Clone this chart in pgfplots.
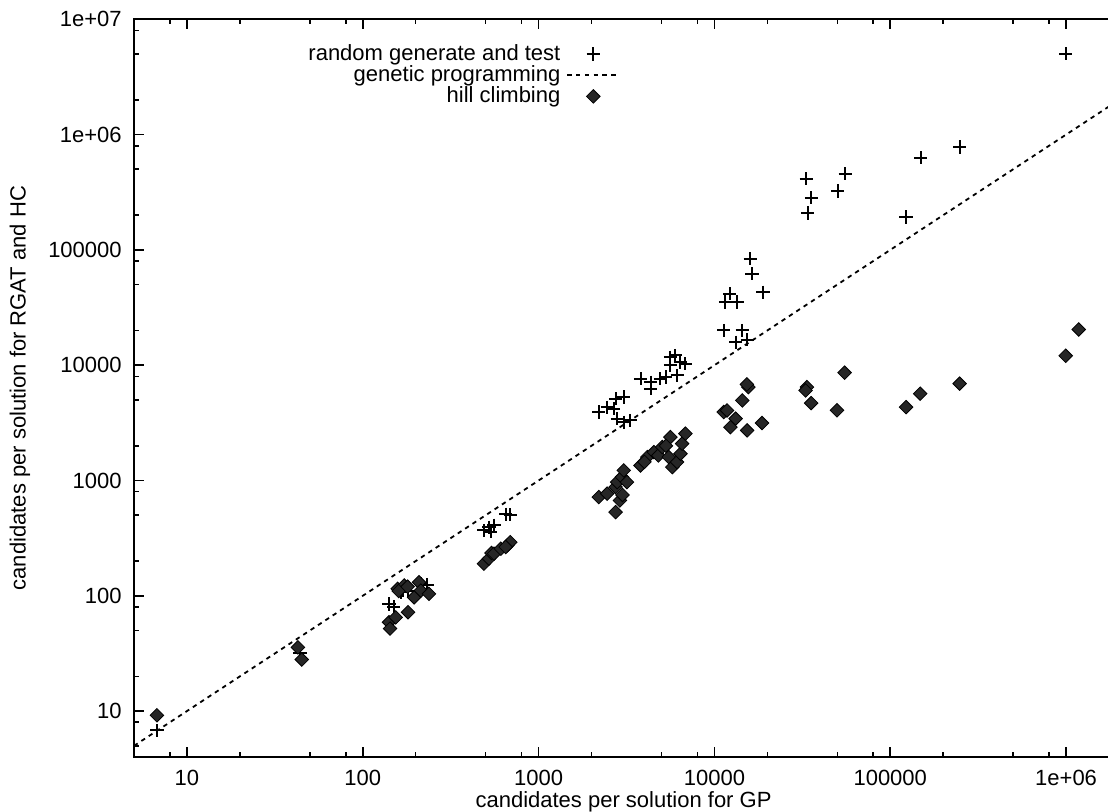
\documentclass[border=0pt]{standalone}
\usepackage{fontspec}
\setmainfont{Liberation Sans}
\usepackage{pgfplots}
\pgfplotsset{compat=1.18}

\begin{document}
\fontsize{11}{13}\selectfont
\begin{tikzpicture}
\begin{loglogaxis}[
  scale only axis, width=492.5pt, height=368.85pt,
  xmin=5, xmax=2e6, ymin=4, ymax=1e7,
  xtick={10,100,1000,10000,100000,1000000},
  xticklabels={10,100,1000,10000,100000,1e+06},
  ytick={10,100,1000,10000,100000,1000000,10000000},
  yticklabels={10,100,1000,10000,100000,1e+06,1e+07},
  minor xtick={8,20,50,80,200,500,800,2000,5000,8000,20000,50000,80000,200000,500000,800000},
  minor ytick={5,8,20,50,80,200,500,800,2000,5000,8000,20000,50000,80000,200000,500000,800000,2000000,5000000,8000000},
  major tick length=5pt, minor tick length=2.5pt,
  every tick/.style={black, line width=0.8pt},
  axis line style={line width=1.2pt},
  tick label style={font=\fontsize{11}{13}\selectfont},
  xticklabel style={yshift=-2.6pt},
  yticklabel style={xshift=-2.3pt},
  xlabel={candidates per solution for GP},
  ylabel={candidates per solution for RGAT and HC},
  label style={font=\fontsize{11}{13}\selectfont},
  xlabel style={at={([yshift=-22.5pt]axis description cs:0.497,0)}, anchor=center},
  ylabel style={at={([xshift=-57pt]axis description cs:0,0.5)}, anchor=center},
  legend plot pos=right,
  legend cell align=right,
  legend image code/.code={\draw[mark repeat=2,mark phase=2,#1] plot coordinates {(0pt,0pt) (13pt,0pt) (26pt,0pt)};},
  legend style={draw=none, fill=none, at={(rel axis cs:0.494,0.968)}, anchor=north east,
    inner sep=0pt, row sep=0pt, nodes={inner ysep=0.5pt, inner xsep=3pt}, font=\fontsize{11}{13}\selectfont},
]
% random generate and test
\addplot[only marks, mark=+, mark size=3.3pt, mark options={line width=1pt, black}] coordinates {
(6.75,6.8) (44,31.6)
(141,85) (150,80) (164,108) (170,112) (180,110) (214,127) (233,125)
(489,369) (522,394) (535,360) (558,410) (650,510) (690,505)
(2200,3920) (2455,4330) (2680,4200) (2740,5120) (3050,5290) (2800,3440) (3050,3210) (3330,3320)
(3800,7640) (4330,7130) (4330,6250) (4930,7640) (5270,7890) (6140,8150) (5620,11750) (6000,12160) (6410,10640) (6840,10300) (5620,9950)
(16000,84000) (16370,62200) (18900,43000) (12200,41700) (11550,35300) (13460,35300) (11300,20000) (14400,20000) (13200,15850) (15350,16630)
(33300,415000) (35600,284000) (34000,209000) (50200,324000) (55500,458000) (123000,193000) (149000,631000) (248000,780000) (995000,5030000)
};
\addlegendentry{random generate and test}
% genetic programming
\addplot[black, line width=0.9pt, dash pattern=on 2.2pt off 2.2pt] coordinates {(5,5) (2000000,2000000)};
\addlegendentry{genetic programming}
% hill climbing
\addplot[only marks, mark=square*, mark size=2.4pt, mark options={rotate=45, draw=black, fill=black!85}] coordinates {
(6.75,9.2) (42.8,35.7) (45,28)
(141,59) (143,52) (154,65) (158,115) (172,123) (181,72) (196,97) (209,131) (214,111) (238,104) (160,110) (180,120)
(489,190) (522,210) (540,235) (558,232) (610,256) (664,274) (690,292) (650,265)
(2200,718) (2455,769) (2740,877) (2800,968) (2980,1071) (3050,1224) (3180,968) (2900,671) (2740,532) (3000,750)
(3800,1350) (4150,1596) (4530,1763) (4800,1650) (5050,1950) (5500,1596) (5620,2380) (5760,1306) (6130,1445) (6410,1707) (6550,2085) (6840,2550) (5300,2000) (4000,1450)
(15600,6460) (15300,6810) (14400,4950) (11300,3920) (11800,4050) (13200,3440) (12330,2900) (15350,2720) (18660,3150)
(33600,6460) (33000,6040) (35500,4690) (55000,8610) (49800,4060) (123000,4330) (148000,5660) (248000,6920) (995000,12080) (1180000,20400)
};
\addlegendentry{hill climbing}
\end{loglogaxis}
\pgfresetboundingbox
\path[use as bounding box] ([shift={(-67pt,-27.5pt)}]current axis.south west) rectangle ++(554pt,406pt);
\end{tikzpicture}
\end{document}
